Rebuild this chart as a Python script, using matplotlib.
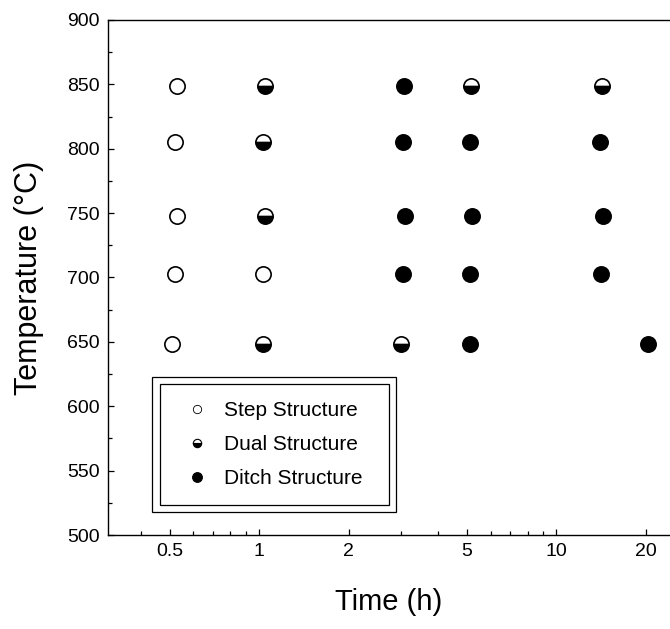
import matplotlib
matplotlib.use("Agg")
import matplotlib.pyplot as plt
from matplotlib.lines import Line2D
from matplotlib.patches import Rectangle
from matplotlib.ticker import FixedLocator, NullFormatter, FixedFormatter

plt.rcParams['font.family'] = ['Liberation Sans', 'DejaVu Sans']

# Data: time (h) and temperature (°C) by observed structure
step_time = [0.53, 0.52, 0.53, 0.52, 1.03, 0.51]
step_temp = [849, 805, 748, 703, 703, 648]

dual_time = [1.05, 5.15, 14.2, 1.03, 1.05, 1.03, 3.0]
dual_temp = [849, 849, 849, 805, 748, 648, 648]

ditch_time = [3.08, 3.05, 5.1, 14.0, 3.1, 5.2, 14.3, 3.05, 5.12, 14.1, 5.1, 20.3]
ditch_temp = [849, 805, 805, 805, 748, 748, 748, 703, 703, 703, 648, 648]

legend_labels = ["Step Structure", "Dual Structure", "Ditch Structure"]
x_major = [0.5, 1, 2, 5, 10, 20]
x_major_labels = ["0.5", "1", "2", "5", "10", "20"]
x_minor = [0.4, 0.6, 0.7, 0.8, 0.9, 3, 4, 6, 7, 8, 9]
y_major = [500, 550, 600, 650, 700, 750, 800, 850, 900]
y_minor = [525, 575, 625, 675, 725, 775, 825, 875]

fig = plt.figure(figsize=(6.7, 6.29), dpi=100)
ax = fig.add_axes([108/670, 94/629, 562/670, 515/629])

ms = 11
mew = 1.2
ax.plot(step_time, step_temp, linestyle='none', marker='o', ms=ms,
        mfc='white', mec='black', mew=mew, clip_on=False)
ax.plot(dual_time, dual_temp, linestyle='none', marker='o', ms=ms,
        fillstyle='bottom', mfc='black', mfcalt='white', mec='black', mew=mew,
        clip_on=False)
ax.plot(ditch_time, ditch_temp, linestyle='none', marker='o', ms=ms,
        mfc='black', mec='black', mew=mew, clip_on=False)

ax.set_xscale('log')
ax.set_xlim(0.31, 24.1)
ax.set_ylim(500, 900)

ax.xaxis.set_major_locator(FixedLocator(x_major))
ax.xaxis.set_major_formatter(FixedFormatter(x_major_labels))
ax.xaxis.set_minor_locator(FixedLocator(x_minor))
ax.xaxis.set_minor_formatter(NullFormatter())
ax.yaxis.set_major_locator(FixedLocator(y_major))
ax.yaxis.set_minor_locator(FixedLocator(y_minor))

ax.tick_params(which='both', direction='in', top=False, right=False,
               labelsize=14, width=0.9, pad=6)
ax.tick_params(which='major', length=4.5)
ax.tick_params(which='minor', length=3)

for s in ['left', 'bottom', 'top']:
    ax.spines[s].set_linewidth(1.0)
ax.spines['right'].set_visible(False)

ax.set_xlabel("Time (h)", fontsize=21)
ax.set_ylabel("Temperature (°C)", fontsize=22)
ax.xaxis.set_label_coords(0.5, -0.103)
ax.yaxis.set_label_coords(-0.1146, 0.5)

# Legend with double frame
h_step = Line2D([], [], linestyle='none', marker='o', ms=6, mfc='white',
                mec='black', mew=0.6)
h_dual = Line2D([], [], linestyle='none', marker='o', ms=6, fillstyle='bottom',
                mfc='black', mfcalt='white', mec='black', mew=0.8)
h_ditch = Line2D([], [], linestyle='none', marker='o', ms=7, mfc='black',
                 mec='black', mew=0.8)
ax.legend([h_step, h_dual, h_ditch], legend_labels, loc='center left',
          bbox_to_anchor=(0.14, 0.175), frameon=False, fontsize=15,
          handlelength=1.0, handletextpad=0.8, labelspacing=0.72,
          borderpad=0, borderaxespad=0, numpoints=1)

ax.add_patch(Rectangle((0.078, 0.0447), 0.512 - 0.078, 0.262,
                       transform=ax.transAxes, fill=False, ec='black',
                       lw=0.9, clip_on=False))
ax.add_patch(Rectangle((0.0925, 0.0583), 0.5 - 0.0925, 0.235,
                       transform=ax.transAxes, fill=False, ec='black',
                       lw=0.9, clip_on=False))

fig.savefig("out.png", dpi=100)
